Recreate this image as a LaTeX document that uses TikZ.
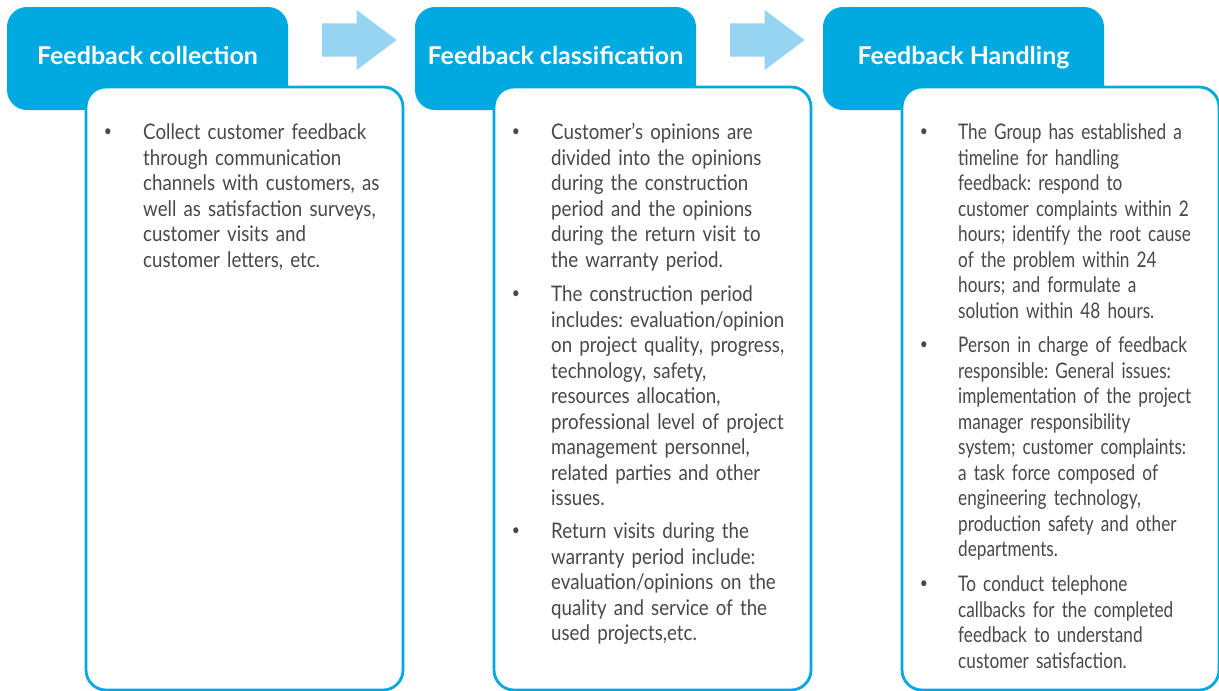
\documentclass[tikz,border=0pt]{standalone}
\usepackage{fontspec}
\newfontfamily\bodyfont{Lato}[FakeStretch=0.87]
\newfontfamily\narrowfont{Lato}[FakeStretch=0.80]
\newfontfamily\titlefont{Lato}[FakeStretch=1.02]
\definecolor{headblue}{RGB}{0,169,224}
\definecolor{arrowblue}{RGB}{151,212,242}
\definecolor{bodygray}{RGB}{72,72,72}
\begin{document}
\begin{tikzpicture}[x=1pt,y=-1pt,
  headbox/.style={rectangle, rounded corners=20pt, fill=headblue,
    minimum width=281pt, minimum height=103pt, inner sep=0pt},
  bodybox/.style={rectangle, rounded corners=20pt, draw=headblue, line width=2.8pt,
    fill=white, minimum width=317pt, minimum height=603pt, inner sep=0pt},
  headtext/.style={anchor=base, inner sep=0pt, text=white,
    font=\titlefont\bfseries\fontsize{24.5}{28}\selectfont},
  bullettext/.style={anchor=base west, inner sep=0pt, text width=300pt, align=left,
    text=bodygray, font=\bodyfont\frenchspacing\fontsize{21.5}{25.55}\selectfont},
  narrowtext/.style={bullettext,
    font=\narrowfont\frenchspacing\fontsize{21.5}{25.55}\selectfont},
  bulletdot/.style={anchor=center, inner sep=0pt, text=bodygray,
    font=\bodyfont\fontsize{16}{16}\selectfont},
  flowarrow/.style={fill=arrowblue}
]
\useasboundingbox (0,0) rectangle (1219,691);

% ---- column 1: collection ----
\node[headbox] (h1) at (147.5,58.5) {};
\node[bodybox] (b1) at (244.5,388.5) {};
\node[headtext] (t1) at (147.5,64) {Feedback collection};
\node[bulletdot] (d11) at (108,133) {•};
\node[bullettext] (p11) at (143,139.5) {Collect customer feedback\\
through communication\\
channels with customers, as\\
well as satisfaction surveys,\\
customer visits and\\
customer letters, etc.};

% ---- arrow 1 ----
\fill[flowarrow] (322,23.3) -- (356.7,23.3) -- (356.7,10) -- (396.7,40)
  -- (356.7,70) -- (356.7,56.7) -- (322,56.7) -- cycle;

% ---- column 2: classification ----
\node[headbox] (h2) at (555.5,58.5) {};
\node[bodybox] (b2) at (652.5,388.5) {};
\node[headtext] (t2) at (555.5,64) {Feedback classification};
\node[bulletdot] (d21) at (516,133) {•};
\node[bullettext] (p21) at (551,139.5) {Customer’s opinions are\\
divided into the opinions\\
during the construction\\
period and the opinions\\
during the return visit to\\
the warranty period.};
\node[bulletdot] (d22) at (516,295) {•};
\node[bullettext] (p22) at (551,301.5) {The construction period\\
includes: evaluation/opinion\\
on project quality, progress,\\
technology, safety,\\
resources allocation,\\
professional level of project\\
management personnel,\\
related parties and other\\
issues.};
\node[bulletdot] (d23) at (516,532) {•};
\node[bullettext] (p23) at (551,538.5) {Return visits during the\\
warranty period include:\\
evaluation/opinions on the\\
quality and service of the\\
used projects,etc.};

% ---- arrow 2 ----
\fill[flowarrow] (730,23.3) -- (764.7,23.3) -- (764.7,10) -- (804.7,40)
  -- (764.7,70) -- (764.7,56.7) -- (730,56.7) -- cycle;

% ---- column 3: handling ----
\node[headbox] (h3) at (963.5,58.5) {};
\node[bodybox] (b3) at (1060.5,388.5) {};
\node[headtext] (t3) at (963.5,64) {Feedback Handling};
\node[bulletdot] (d31) at (924,133) {•};
\node[narrowtext] (p31) at (958,139.5) {The Group has established a\\
timeline for handling\\
feedback: respond to\\
customer complaints within 2\\
hours; identify the root cause\\
of the problem within 24\\
hours; and formulate a\\
solution within 48 hours.};
\node[bulletdot] (d32) at (924,346) {•};
\node[narrowtext] (p32) at (958,352.5) {Person in charge of feedback\\
responsible: General issues:\\
implementation of the project\\
manager responsibility\\
system; customer complaints:\\
a task force composed of\\
engineering technology,\\
production safety and other\\
departments.};
\node[bulletdot] (d33) at (924,585) {•};
\node[narrowtext] (p33) at (958,591.5) {To conduct telephone\\
callbacks for the completed\\
feedback to understand\\
customer satisfaction.};
\end{tikzpicture}
\end{document}
